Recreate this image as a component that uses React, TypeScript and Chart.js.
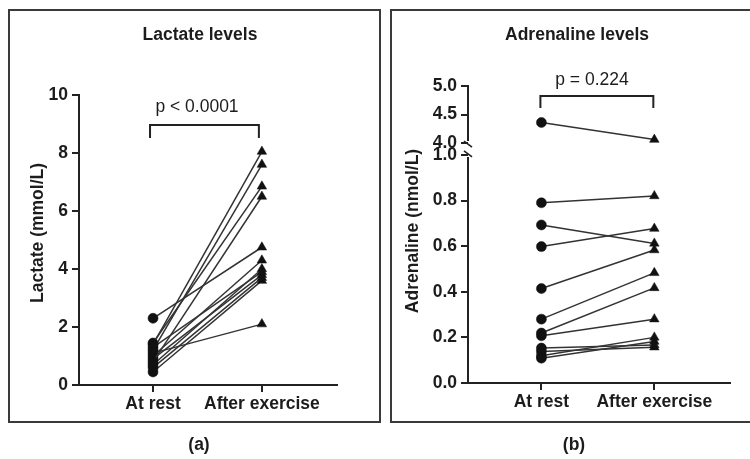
import React, { useEffect, useRef } from 'react';
import { Chart, registerables, LinearScale } from 'chart.js';

Chart.register(...registerables);

// ---------------- data ----------------
const GROUPS = ['At rest', 'After exercise'];

const LACTATE_REST = [2.3, 1.4, 1.2, 1.45, 0.8, 1.0, 0.7, 1.3, 0.9, 0.6, 0.45, 1.1];
const LACTATE_AFTER = [4.75, 8.05, 7.6, 6.85, 6.5, 4.3, 4.0, 3.9, 3.8, 3.7, 3.6, 2.1];

const ADRENALINE_REST = [4.36, 0.79, 0.693, 0.598, 0.414, 0.28, 0.219, 0.207, 0.153, 0.138, 0.119, 0.109];
const ADRENALINE_AFTER = [4.06, 0.82, 0.612, 0.677, 0.583, 0.483, 0.417, 0.28, 0.167, 0.157, 0.2, 0.182];

const LACTATE_TICKS = [0, 2, 4, 6, 8, 10];
const ADRENALINE_TICKS = [0, 0.2, 0.4, 0.6, 0.8, 1.0, 4.0, 4.5, 5.0];
const ADRENALINE_BREAK = [1.0, 4.0];

const TITLES = ['Lactate levels', 'Adrenaline levels'];
const Y_TITLES = ['Lactate (mmol/L)', 'Adrenaline (nmol/L)'];
const P_TEXTS = ['p < 0.0001', 'p = 0.224'];
const PANEL_LABELS = ['(a)', '(b)'];

// ---------------- style ----------------
const FONT = '"Liberation Sans", Arial, sans-serif';
const FONT_SIZE = 17.5;
const TEXT = '#1c1c1c';
const AXIS = '#222222';
const LINE = '#333333';
const MARK = '#111111';
const BORDER = '#3a3a3a';

// ---------------- broken linear scale ----------------
class BrokenLinearScale extends LinearScale {
  static id = 'brokenLinear';
  static defaults = LinearScale.defaults;

  _toDecimal(v: number): number {
    const o: any = this.options;
    const lo = o.breakLow, hi = o.breakHigh;
    const lf = o.lowFraction, hf = o.highFraction;
    const min = this.min, max = this.max;
    if (v <= lo) return ((v - min) / (lo - min)) * lf;
    if (v >= hi) return hf + ((v - hi) / (max - hi)) * (1 - hf);
    return lf + ((v - lo) / (hi - lo)) * (hf - lf);
  }

  _fromDecimal(d: number): number {
    const o: any = this.options;
    const lo = o.breakLow, hi = o.breakHigh;
    const lf = o.lowFraction, hf = o.highFraction;
    const min = this.min, max = this.max;
    if (d <= lf) return min + (d / lf) * (lo - min);
    if (d >= hf) return hi + ((d - hf) / (1 - hf)) * (max - hi);
    return lo + ((d - lf) / (hf - lf)) * (hi - lo);
  }

  getPixelForValue(value: number) {
    if (value === null || value === undefined) return NaN;
    return this.getPixelForDecimal(this._toDecimal(value));
  }

  getValueForPixel(pixel: number) {
    return this._fromDecimal(this.getDecimalForPixel(pixel));
  }
}
Chart.register(BrokenLinearScale as any);

// ---------------- annotation plugin ----------------
const annotPlugin = {
  id: 'annot',
  afterDraw(chart: any, _args: any, o: any) {
    const ctx = chart.ctx as CanvasRenderingContext2D;
    ctx.save();
    // panel frame
    ctx.strokeStyle = BORDER;
    ctx.lineWidth = 2;
    ctx.strokeRect(o.box[0], o.box[1], o.box[2], o.box[3]);

    ctx.fillStyle = TEXT;
    ctx.textAlign = 'center';
    ctx.textBaseline = 'middle';
    ctx.font = `bold ${FONT_SIZE}px ${FONT}`;
    ctx.fillText(o.title, o.titleX, o.titleY);
    ctx.fillText(o.panel, o.panelX, o.panelY);

    ctx.save();
    ctx.translate(o.yTitleX, o.yTitleY);
    ctx.rotate(-Math.PI / 2);
    ctx.fillText(o.yTitle, 0, 0);
    ctx.restore();

    // p value and bracket
    const xs = chart.scales.x;
    const x0 = xs.getPixelForValue(0) + o.bracketShift;
    const x1 = xs.getPixelForValue(1) + o.bracketShift;
    ctx.font = `${FONT_SIZE}px ${FONT}`;
    ctx.fillText(o.pText, o.pX, o.pY);
    ctx.strokeStyle = AXIS;
    ctx.lineWidth = 2;
    ctx.beginPath();
    ctx.moveTo(x0, o.bracketY + o.bracketDrop);
    ctx.lineTo(x0, o.bracketY);
    ctx.lineTo(x1, o.bracketY);
    ctx.lineTo(x1, o.bracketY + o.bracketDrop);
    ctx.stroke();

    // broken y axis
    if (o.broken) {
      const ys = chart.scales.y;
      const ax = chart.chartArea.left;
      const p0 = ys.getPixelForValue(ys.min);
      const pLo = ys.getPixelForValue(o.broken[0]);
      const pHi = ys.getPixelForValue(o.broken[1]);
      const pMax = ys.getPixelForValue(ys.max);
      ctx.strokeStyle = AXIS;
      ctx.lineWidth = 2;
      ctx.beginPath();
      ctx.moveTo(ax, p0 + 1);
      ctx.lineTo(ax, pLo + 2);
      ctx.moveTo(ax, pHi - 2);
      ctx.lineTo(ax, pMax - 1);
      ctx.stroke();
      ctx.lineWidth = 1.6;
      ctx.beginPath();
      const s1 = pHi + 1, s2 = pLo - 1;
      ctx.moveTo(ax - 4, s1 - 3);
      ctx.lineTo(ax + 4, s1 + 3);
      ctx.moveTo(ax - 4, s2 - 3);
      ctx.lineTo(ax + 4, s2 + 3);
      ctx.stroke();
    }
    ctx.restore();
  },
};

// ---------------- config builders ----------------
function pairDatasets(rest: number[], after: number[]) {
  return rest.map((r, i) => ({
    label: `Subject ${i + 1}`,
    data: [
      { x: 0, y: r },
      { x: 1, y: after[i] },
    ],
    showLine: true,
    borderColor: LINE,
    borderWidth: 1.5,
    pointStyle: ['circle', 'triangle'],
    pointRadius: [5, 5.5],
    pointHoverRadius: [5, 5.5],
    pointBackgroundColor: MARK,
    pointBorderColor: MARK,
    pointBorderWidth: 0.5,
    clip: false as any,
  }));
}

function xScale(min: number, max: number) {
  return {
    type: 'linear',
    min,
    max,
    afterBuildTicks: (s: any) => {
      s.ticks = GROUPS.map((_, i) => ({ value: i }));
    },
    afterFit: (s: any) => {
      s.height = 40;
    },
    ticks: {
      autoSkip: false,
      maxRotation: 0,
      padding: 2,
      color: TEXT,
      font: { family: FONT, size: FONT_SIZE, weight: 'bold' },
      callback: (_v: any, i: number) => GROUPS[i],
    },
    grid: { display: true, drawOnChartArea: false, drawTicks: true, tickLength: 7, color: AXIS, lineWidth: 2 },
    border: { display: true, color: AXIS, width: 2 },
  };
}

function yTickOpts(decimals: number) {
  return {
    autoSkip: false,
    padding: 4,
    color: TEXT,
    font: { family: FONT, size: FONT_SIZE, weight: 'bold' },
    callback: (v: any) => Number(v).toFixed(decimals),
  };
}

function lactateConfig(): any {
  return {
    type: 'scatter',
    data: { datasets: pairDatasets(LACTATE_REST, LACTATE_AFTER) },
    options: {
      responsive: false,
      animation: false,
      events: [],
      layout: { padding: { left: 39, right: 48, top: 95, bottom: 34 } },
      scales: {
        x: xScale(-0.68, 1.69),
        y: {
          type: 'linear',
          min: 0,
          max: 10,
          afterBuildTicks: (s: any) => {
            s.ticks = LACTATE_TICKS.map((v) => ({ value: v }));
          },
          afterFit: (s: any) => {
            s.width = 40;
          },
          ticks: yTickOpts(0),
          grid: { display: true, drawOnChartArea: false, drawTicks: true, tickLength: 7, color: AXIS, lineWidth: 2 },
          border: { display: true, color: AXIS, width: 2 },
        },
      },
      plugins: {
        legend: { display: false },
        tooltip: { enabled: false },
        title: { display: false },
        annot: {
          box: [9, 10, 371, 412],
          title: TITLES[0],
          titleX: 200,
          titleY: 35,
          panel: PANEL_LABELS[0],
          panelX: 199,
          panelY: 445,
          yTitle: Y_TITLES[0],
          yTitleX: 38,
          yTitleY: 233,
          pText: P_TEXTS[0],
          pX: 197,
          pY: 107,
          bracketY: 125,
          bracketDrop: 13,
          bracketShift: -3,
          broken: null,
        },
      },
    },
    plugins: [annotPlugin],
  };
}

function adrenalineConfig(): any {
  return {
    type: 'scatter',
    data: { datasets: pairDatasets(ADRENALINE_REST, ADRENALINE_AFTER) },
    options: {
      responsive: false,
      animation: false,
      events: [],
      layout: { padding: { left: 43, right: 20, top: 86, bottom: 36 } },
      scales: {
        x: xScale(-0.65, 1.67),
        y: {
          type: 'brokenLinear',
          min: 0,
          max: 5,
          breakLow: ADRENALINE_BREAK[0],
          breakHigh: ADRENALINE_BREAK[1],
          lowFraction: 0.768,
          highFraction: 0.808,
          afterBuildTicks: (s: any) => {
            s.ticks = ADRENALINE_TICKS.map((v) => ({ value: v }));
          },
          afterFit: (s: any) => {
            s.width = 40;
          },
          ticks: yTickOpts(1),
          grid: { display: true, drawOnChartArea: false, drawTicks: true, tickLength: 7, color: AXIS, lineWidth: 2 },
          border: { display: false },
        },
      },
      plugins: {
        legend: { display: false },
        tooltip: { enabled: false },
        title: { display: false },
        annot: {
          box: [6, 10, 372, 412],
          title: TITLES[1],
          titleX: 192,
          titleY: 35,
          panel: PANEL_LABELS[1],
          panelX: 189,
          panelY: 445,
          yTitle: Y_TITLES[1],
          yTitleX: 28,
          yTitleY: 231,
          pText: P_TEXTS[1],
          pX: 207,
          pY: 80,
          bracketY: 96,
          bracketDrop: 12,
          bracketShift: -1,
          broken: ADRENALINE_BREAK,
        },
      },
    },
    plugins: [annotPlugin],
  };
}

// ---------------- components ----------------
function Panel({ make, left, width }: { make: () => any; left: number; width: number }) {
  const ref = useRef<HTMLCanvasElement | null>(null);
  useEffect(() => {
    if (!ref.current) return;
    const chart = new Chart(ref.current, make());
    return () => chart.destroy();
  }, [make]);
  return (
    <canvas
      ref={ref}
      width={width}
      height={459}
      style={{ position: 'absolute', left, top: 0, width, height: 459 }}
    />
  );
}

export default function App() {
  return (
    <div
      style={{
        position: 'absolute',
        left: 0,
        top: 0,
        width: 750,
        height: 459,
        background: '#ffffff',
        overflow: 'hidden',
      }}
    >
      <Panel make={lactateConfig} left={0} width={385} />
      <Panel make={adrenalineConfig} left={385} width={365} />
    </div>
  );
}
